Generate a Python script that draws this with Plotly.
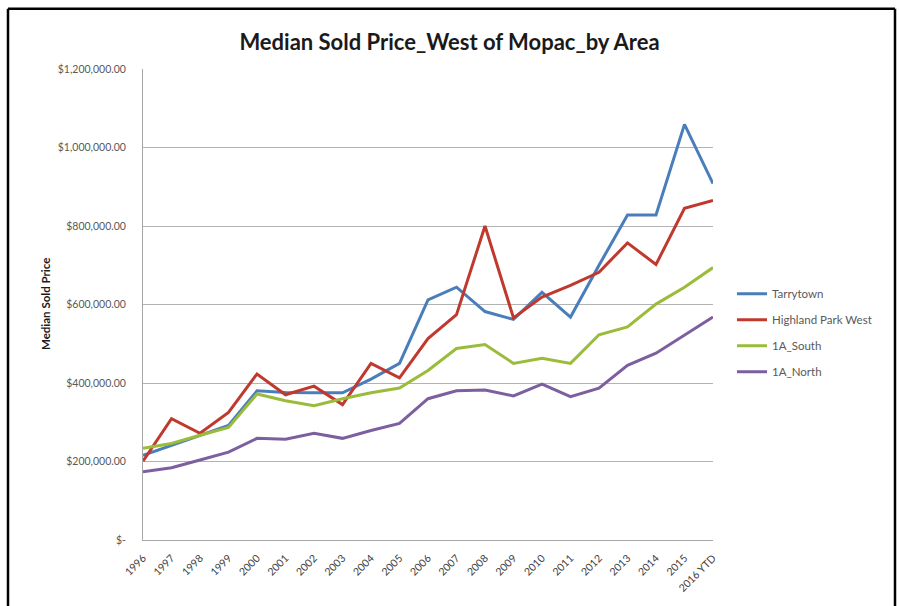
import plotly.graph_objects as go

years = ["1996", "1997", "1998", "1999", "2000", "2001", "2002", "2003", "2004", "2005",
         "2006", "2007", "2008", "2009", "2010", "2011", "2012", "2013", "2014", "2015", "2016 YTD"]

tarrytown = [216000, 241000, 267000, 292000, 380000, 376000, 375000, 375000, 410000, 450000,
             612000, 644000, 582000, 562000, 631000, 568000, 700000, 828000, 828000, 1059000, 908000]
highland_park_west = [201000, 309000, 272000, 325000, 423000, 370000, 392000, 345000, 450000, 413000,
                      513000, 574000, 800000, 566000, 619000, 649000, 682000, 757000, 702000, 845000, 865000]
ia_south = [234000, 246000, 267000, 287000, 372000, 355000, 342000, 360000, 375000, 387000,
            432000, 488000, 498000, 450000, 463000, 450000, 523000, 543000, 601000, 644000, 694000]
ia_north = [174000, 184000, 204000, 224000, 259000, 257000, 272000, 259000, 279000, 297000,
            360000, 380000, 382000, 367000, 397000, 365000, 387000, 445000, 476000, 523000, 568000]

series_names = ["Tarrytown", "Highland Park West", "1A_South", "1A_North"]
series_values = [tarrytown, highland_park_west, ia_south, ia_north]
series_colors = ["#4A7EBB", "#C0392F", "#9BBB3A", "#7D5FA0"]

y_tick_vals = [0, 200000, 400000, 600000, 800000, 1000000, 1200000]
y_tick_text = ["$-", "$200,000.00", "$400,000.00", "$600,000.00", "$800,000.00",
               "$1,000,000.00", "$1,200,000.00"]

fig = go.Figure()
for name, vals, col in zip(series_names, series_values, series_colors):
    fig.add_trace(go.Scatter(
        x=years, y=vals, mode="lines", name=name, legendgroup=name,
        line=dict(color=col, width=3),
    ))

W, H = 899, 606
L, R, T, B = 143, 713, 69, 546

def px(x):
    return (x - L) / (R - L)

def py(y):
    return (B - y) / (B - T)

border = dict(color="black", width=2.5)
frame_lines = [
    dict(type="line", xref="paper", yref="paper", x0=px(8), x1=px(8), y0=py(620), y1=py(8), line=border),
    dict(type="line", xref="paper", yref="paper", x0=px(8), x1=px(895), y0=py(8), y1=py(8), line=border),
    dict(type="line", xref="paper", yref="paper", x0=px(895), x1=px(895), y0=py(620), y1=py(8), line=border),
]

fig.update_layout(
    width=W, height=H,
    margin=dict(l=L, r=W - R, t=T, b=H - B),
    paper_bgcolor="white", plot_bgcolor="white",
    font=dict(family="Lato, 'Open Sans', sans-serif", color="#404040"),
    title=dict(text="<b>Median Sold Price_West of Mopac_by Area</b>",
               x=0.5, xanchor="center", y=1 - 42 / H, yanchor="middle",
               font=dict(size=22, color="#1a1a1a")),
    showlegend=True,
    legend=dict(x=px(732), y=py(282), xanchor="left", yanchor="top",
                font=dict(size=11.5, color="#595959"), tracegroupgap=7,
                bgcolor="rgba(0,0,0,0)"),
    xaxis=dict(type="category", tickangle=-45, tickfont=dict(size=10.5, color="#404040"),
               showgrid=False, showline=True, linecolor="#A6A6A6", linewidth=1,
               ticks="", zeroline=False, ticklabelstandoff=7),
    yaxis=dict(range=[0, 1200000], tickvals=y_tick_vals, ticktext=y_tick_text,
               tickfont=dict(size=10.5, color="#595959"), showgrid=True,
               gridcolor="#B3B3B3", gridwidth=1, showline=True, linecolor="#A6A6A6",
               linewidth=1, zeroline=False, ticks="", ticklabelstandoff=14),
    annotations=[dict(text="<b>Median Sold Price</b>", textangle=-90,
                      x=px(37), y=0.5, xref="paper", yref="paper",
                      showarrow=False, font=dict(size=11.5, color="#1a1a1a"))],
    shapes=frame_lines,
)

fig.write_html("out.html", config={"displayModeBar": False},
               post_script="document.body.style.margin='0';document.body.style.overflow='hidden';")
